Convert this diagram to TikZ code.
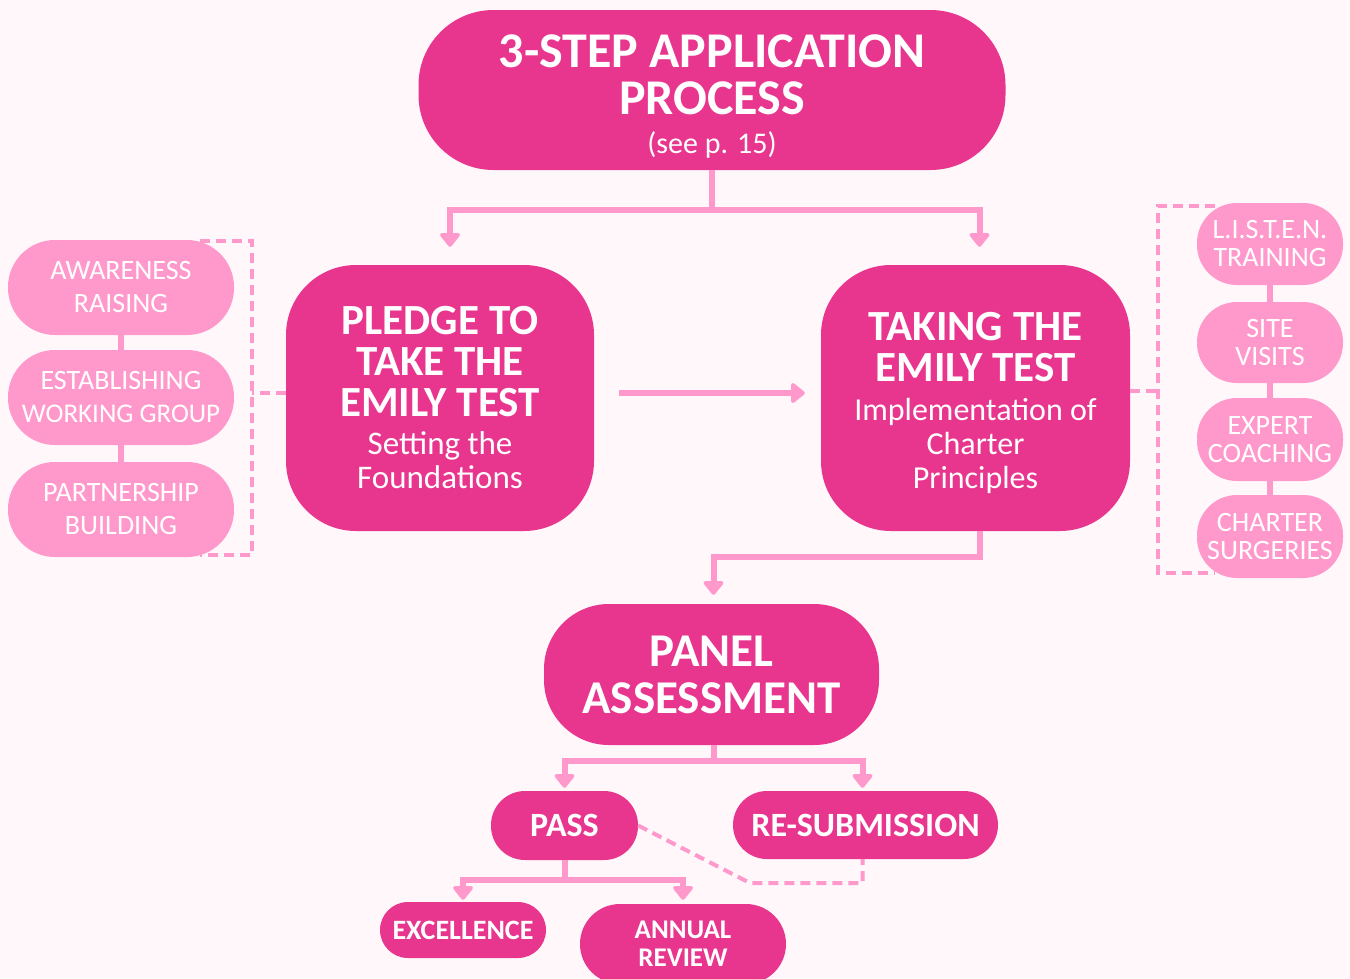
\documentclass[tikz,border=0pt]{standalone}
\usepackage{fontspec}
\setmainfont{Carlito}
\usetikzlibrary{arrows.meta}
\definecolor{deeppink}{HTML}{E8368F}
\definecolor{softpink}{HTML}{FF99CC}
\definecolor{paper}{HTML}{FFF7FA}
\newcommand{\boxfont}[2]{\fontsize{#1}{#2}\selectfont}
\tikzset{
  stepbox/.style={fill=deeppink, text=white, align=center, inner sep=0pt,
    rounded corners=#1},
  pill/.style={fill=softpink, text=white, align=center, inner sep=0pt,
    rounded corners=#1},
  link/.style={draw=softpink, line width=6pt,
    -{Triangle[round,length=15pt,width=23pt]}},
  dashlink/.style={draw=softpink, line width=4pt, dash pattern=on 10pt off 6pt}
}

\begin{document}
\begin{tikzpicture}[x=1pt, y=-1pt]
  \fill[paper] (0,0) rectangle (1350,978);
  \useasboundingbox (0,0) rectangle (1350,978);

  % dashed brackets behind the side pills
  \coordinate (lbrtop) at (200,241);
  \coordinate (lbrbot) at (200,555);
  \coordinate (rbrtop) at (1215,206);
  \coordinate (rbrbot) at (1215,573);
  \draw[dashlink] (lbrtop) -- ++(52,0) |- (lbrbot);
  \draw[dashlink] (rbrtop) -- ++(-57,0) |- (rbrbot);

  % main steps
  \node[stepbox=75pt, minimum width=587pt, minimum height=160pt,
    font=\boxfont{50}{47}\bfseries] (title) at (712,90)
    {\rule{0pt}{46pt}3-STEP APPLICATION\\ PROCESS\\[-8pt]
     {\mdseries\boxfont{30}{32}(see p. 15)}};
  \node[stepbox=70pt, minimum width=308pt, minimum height=266pt,
    font=\boxfont{43}{41}\bfseries] (pledge) at (440,398)
    {PLEDGE TO\\ TAKE THE\\ EMILY TEST\\[-3pt]
     {\mdseries\boxfont{33}{35}Setting the}\\[-7pt]
     {\mdseries\boxfont{33}{35}Foundations}};
  \node[stepbox=70pt, minimum width=309pt, minimum height=266pt,
    font=\boxfont{43}{41}\bfseries] (taking) at (975.5,398)
    {\rule{0pt}{38pt}TAKING THE\\ EMILY TEST\\[-2pt]
     {\mdseries\boxfont{32}{34}Implementation of}\\[-7pt]
     {\mdseries\boxfont{32}{34}Charter}\\[-7pt]
     {\mdseries\boxfont{32}{34}Principles}};
  \node[stepbox=65pt, minimum width=335pt, minimum height=141pt,
    font=\boxfont{47}{47}\bfseries] (panel) at (711.5,674.5)
    {PANEL\\ ASSESSMENT};

  % outcomes
  \node[stepbox=34pt, minimum width=147pt, minimum height=69pt,
    font=\boxfont{34}{34}\bfseries] (pass) at (564.5,825.5) {PASS};
  \node[stepbox=34pt, minimum width=265pt, minimum height=68pt,
    font=\boxfont{34}{34}\bfseries] (resub) at (865.5,825) {RE-SUBMISSION};
  \node[stepbox=28pt, minimum width=166pt, minimum height=56pt,
    font=\boxfont{28}{28}\bfseries] (excel) at (463,930) {EXCELLENCE};
  \node[stepbox=40pt, minimum width=206pt, minimum height=80pt,
    font=\boxfont{27}{28}\bfseries] (annual) at (683,944) {ANNUAL\\ REVIEW};

  % left pills
  \node[pill=47pt, minimum width=226pt, minimum height=95pt,
    font=\boxfont{28}{33}] (aware) at (121,287.5) {AWARENESS\\ RAISING};
  \node[pill=47pt, minimum width=226pt, minimum height=95pt,
    font=\boxfont{28}{33}] (establish) at (121,397.5)
    {ESTABLISHING\\ {\boxfont{27}{33}WORKING GROUP}};
  \node[pill=47pt, minimum width=226pt, minimum height=95pt,
    font=\boxfont{28}{33}] (partner) at (121,509.5) {PARTNERSHIP\\ BUILDING};

  % right pills
  \node[pill=40pt, minimum width=146pt, minimum height=82pt,
    font=\boxfont{28}{28}] (listen) at (1270,244) {L.I.S.T.E.N.\\ TRAINING};
  \node[pill=40pt, minimum width=146pt, minimum height=81pt,
    font=\boxfont{28}{28}] (site) at (1270,342.5) {SITE\\ VISITS};
  \node[pill=40pt, minimum width=146pt, minimum height=83pt,
    font=\boxfont{28}{28}] (expert) at (1270,439.5) {EXPERT\\ COACHING};
  \node[pill=40pt, minimum width=146pt, minimum height=83pt,
    font=\boxfont{28}{28}] (charter) at (1270,536.5) {CHARTER\\ SURGERIES};

  % pill chains
  \draw[softpink, line width=6pt] (aware.south) -- (establish.north);
  \draw[softpink, line width=6pt] (establish.south) -- (partner.north);
  \draw[softpink, line width=6pt] (listen.south) -- (site.north);
  \draw[softpink, line width=6pt] (site.south) -- (expert.north);
  \draw[softpink, line width=6pt] (expert.south) -- (charter.north);

  % dashed ties to the steps
  \draw[dashlink] ([yshift=5pt]pledge.west) -- ++(-34,0);
  \draw[dashlink] ([yshift=7pt]taking.east) -- ++(30,0);

  % flow
  \draw[link, shorten >=18pt] (title.south) -- ++(0,40) -| ([xshift=10pt]pledge.north);
  \draw[link, shorten >=18pt] (title.south) -- ++(0,40) -| ([xshift=4pt]taking.north);
  \draw[link, shorten <=25pt, shorten >=16pt] ([yshift=5pt]pledge.east) -- ([yshift=5pt]pledge.east -| taking.west);
  \draw[link, shorten >=9pt] ([xshift=4pt]taking.south) -- ++(0,26) -| ([xshift=2pt]panel.north);
  \draw[link, shorten >=3pt] ([xshift=2pt]panel.south) -- ++(0,16) -| (pass.north);
  \draw[link, shorten >=3pt] ([xshift=2pt]panel.south) -- ++(0,16) -| ([xshift=-3pt]resub.north);
  \draw[link, shorten >=2pt] (pass.south) -- ++(0,20) -| (excel.north);
  \draw[link, shorten >=4pt] (pass.south) -- ++(0,20) -| (annual.north);

  % back to re-submission
  \coordinate (bend) at (750,883);
  \draw[dashlink] (pass.east) -- (bend) -| ([xshift=-3pt]resub.south);
\end{tikzpicture}
\end{document}
